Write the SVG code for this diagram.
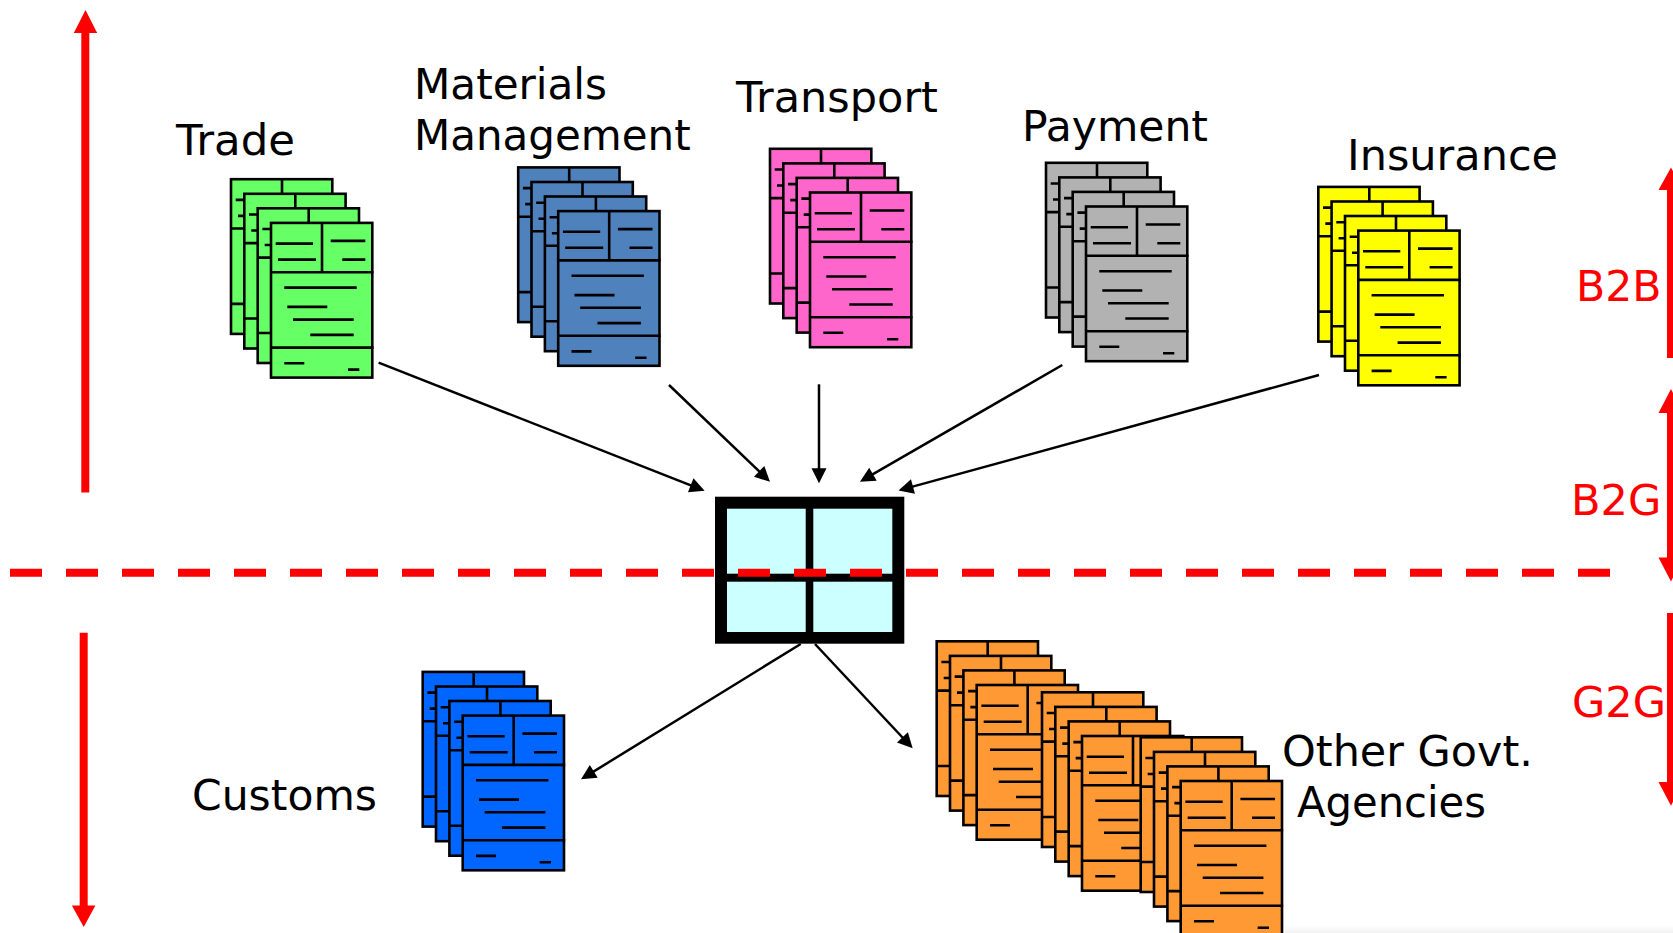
<svg xmlns="http://www.w3.org/2000/svg" width="1673" height="933" viewBox="0 0 1673 933">
<style>
text{font-family:"DejaVu Sans","Liberation Sans",sans-serif;font-size:42px;fill:#000}
.red{fill:#f00}
.sheet rect{stroke:#000;stroke-width:2.6}
.sheet path{fill:none;stroke:#000;stroke-width:2.6}
.conn{stroke:#000;stroke-width:2.5;fill:none;marker-end:url(#ah)}
.bar{fill:#f00}
.pane{fill:#cff}
</style>
<defs>
<marker id="ah" markerUnits="userSpaceOnUse" markerWidth="16" markerHeight="16" refX="7" refY="7.5" orient="auto" overflow="visible"><path d="M0 0L15 7.5L0 15z" fill="#000"/></marker>
<linearGradient id="fade" x1="0" y1="0" x2="0" y2="1"><stop offset="0" stop-color="#fff"/><stop offset="1" stop-color="#f1f1f1"/></linearGradient>
<g id="doc" class="sheet">
<rect x="0" y="0" width="101.3" height="154.7"/>
<path d="M51 0V49.3M0 49.3H102.5M0 124.7H102.5M4.7 20.7H42M7 36.7H45M59.7 18H94.3M71.3 36.7H94.3M13.3 64.7H85.7M16.3 84H56.3M22 96.7H82.7M39.3 112H82.7M13.3 140.3H33.3M77 146.7H88.3"/>
</g>
<g id="stack">
<use href="#doc" x="-40" y="-43.7"/>
<use href="#doc" x="-26.7" y="-29.1"/>
<use href="#doc" x="-13.3" y="-14.6"/>
<use href="#doc" x="0" y="0"/>
</g>
</defs>
<rect x="0" y="0" width="1673" height="933" fill="#fff"/>
<rect x="1285" y="925" width="388" height="8" fill="url(#fade)"/>
<g id="node-trade" fill="#6f6">
<text x="176" y="154.5" textLength="119" lengthAdjust="spacingAndGlyphs">Trade</text>
<use href="#stack" x="271" y="222.9"/>
</g>
<g id="node-materials" fill="#4f81bd">
<text x="414" y="98.5" textLength="193" lengthAdjust="spacingAndGlyphs">Materials</text>
<text x="414" y="149.5" textLength="276.7" lengthAdjust="spacingAndGlyphs">Management</text>
<use href="#stack" x="558.2" y="211.1"/>
</g>
<g id="node-transport" fill="#f6c">
<text x="736" y="112.4" textLength="202" lengthAdjust="spacingAndGlyphs">Transport</text>
<use href="#stack" x="810" y="192.5"/>
</g>
<g id="node-payment" fill="#b2b2b2">
<text x="1022" y="140.5" textLength="186" lengthAdjust="spacingAndGlyphs">Payment</text>
<use href="#stack" x="1086" y="206.5"/>
</g>
<g id="node-insurance" fill="#ff0">
<text x="1347" y="169.5" textLength="211" lengthAdjust="spacingAndGlyphs">Insurance</text>
<use href="#stack" x="1358.3" y="230.6"/>
</g>
<g id="node-customs" fill="#06f">
<text x="192" y="810" textLength="185" lengthAdjust="spacingAndGlyphs">Customs</text>
<use href="#stack" x="462.7" y="715.6"/>
</g>
<g id="node-agencies" fill="#f93">
<use href="#stack" x="976.7" y="685"/>
<use href="#stack" x="1082" y="736"/>
<use href="#stack" x="1180.7" y="781"/>
<text x="1282" y="765.5" textLength="251" lengthAdjust="spacingAndGlyphs">Other Govt.</text>
<text x="1297" y="816.5" textLength="189" lengthAdjust="spacingAndGlyphs">Agencies</text>
</g>
<g id="node-window">
<rect x="715" y="496.7" width="189.3" height="147"/>
<rect class="pane" x="727" y="508.7" width="78.7" height="65"/>
<rect class="pane" x="813.3" y="508.7" width="79" height="65"/>
<rect class="pane" x="727" y="581.7" width="78.7" height="50.3"/>
<rect class="pane" x="813.3" y="581.7" width="79" height="50.3"/>
</g>
<g id="connectors">
<path class="conn" d="M378.6 362.7L697.2 487.8"/>
<path class="conn" d="M669 385L764.2 476.2"/>
<path class="conn" d="M819 384.3V475.3"/>
<path class="conn" d="M1062.3 365L866.9 477.7"/>
<path class="conn" d="M1319 375L906.2 488.4"/>
<path class="conn" d="M800.7 644L587.8 775.1"/>
<path class="conn" d="M815 644L907.2 742.5"/>
</g>
<g id="boundary">
<path d="M10 572.8H1610" fill="none" stroke="#f00" stroke-width="8" stroke-dasharray="32 24"/>
</g>
<g id="scope-arrows">
<path class="bar" d="M85.5 10L97.2 33H89.3V492.5H81.3V33H73.8z"/>
<path class="bar" d="M83.7 927L71.9 905.5H79.7V632.7H87.7V905.5H95.4z"/>
<path class="bar" d="M1671 167.5L1658.5 190H1667V358H1675V190H1683z"/>
<path class="bar" d="M1671 389L1658.5 413H1667V557.6H1658.5L1671 581.5L1683 557.6H1675V413H1683z"/>
<path class="bar" d="M1667 613V782H1658.5L1671 805.7L1683 782H1675V613z"/>
</g>
<g id="scope-labels">
<text class="red" x="1576" y="300.5" textLength="85.5" lengthAdjust="spacingAndGlyphs">B2B</text>
<text class="red" x="1571" y="514.5" textLength="90.3" lengthAdjust="spacingAndGlyphs">B2G</text>
<text class="red" x="1572" y="716.5" textLength="94" lengthAdjust="spacingAndGlyphs">G2G</text>
</g>
</svg>
